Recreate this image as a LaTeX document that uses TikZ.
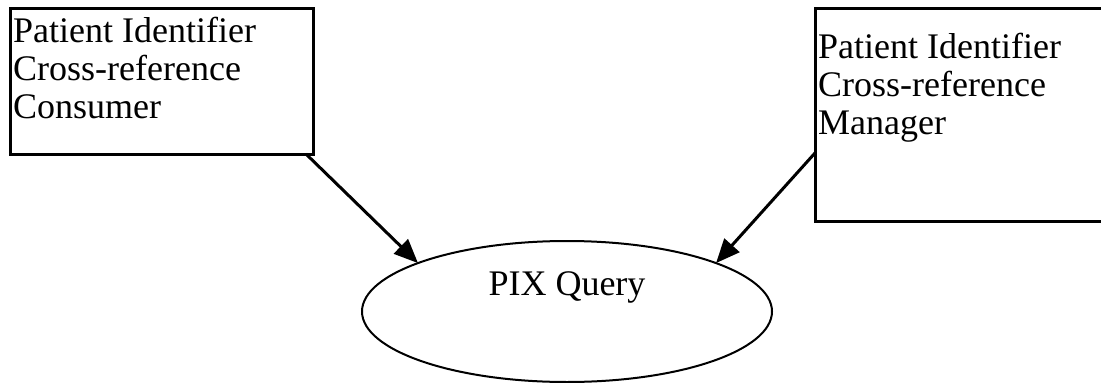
\documentclass[tikz,border=0pt]{standalone}
\usepackage{fontspec}
\setmainfont{Liberation Serif}
\usepackage{tikz}
\usetikzlibrary{positioning}
\usetikzlibrary{shapes.geometric}
\usetikzlibrary{arrows.meta}

\begin{document}
\begin{tikzpicture}[x=1pt,y=-1pt,font=\fontsize{36}{38}\selectfont,
  actor/.style={draw,rectangle,line width=3pt,anchor=north west,inner sep=0pt,outer sep=0pt},
  boxtext/.style={anchor=north west,align=left,inner sep=0pt},
  flow/.style={-{Triangle[length=24pt,width=20pt]},line width=3pt}]
\useasboundingbox (0,0) rectangle (1101,383);

\node[actor,minimum width=303pt,minimum height=146pt] (consumer) at (10,8) {};
\node[actor,minimum width=320pt,minimum height=213pt] (manager)  at (815,8) {};
\node[boxtext] (consumertext) at ([shift={(3,9)}]consumer.north west)
  {Patient Identifier\\Cross-reference\\Consumer};
\node[boxtext] (managertext)  at ([shift={(3,25)}]manager.north west)
  {Patient Identifier\\Cross-reference\\Manager};

\node[draw,ellipse,line width=2pt,inner sep=0pt,outer sep=0pt,
      minimum width=410pt,minimum height=141pt] (query) at (567,311.5) {};
\node[anchor=base] (querytext) at ([shift={(0,-16.5)}]query.center) {PIX Query};

\draw[flow] ([shift={(-7,0)}]consumer.south east) -- (query.162);
\draw[flow] ([shift={(0,-68)}]manager.south west) -- (query.18);

\end{tikzpicture}
\end{document}
